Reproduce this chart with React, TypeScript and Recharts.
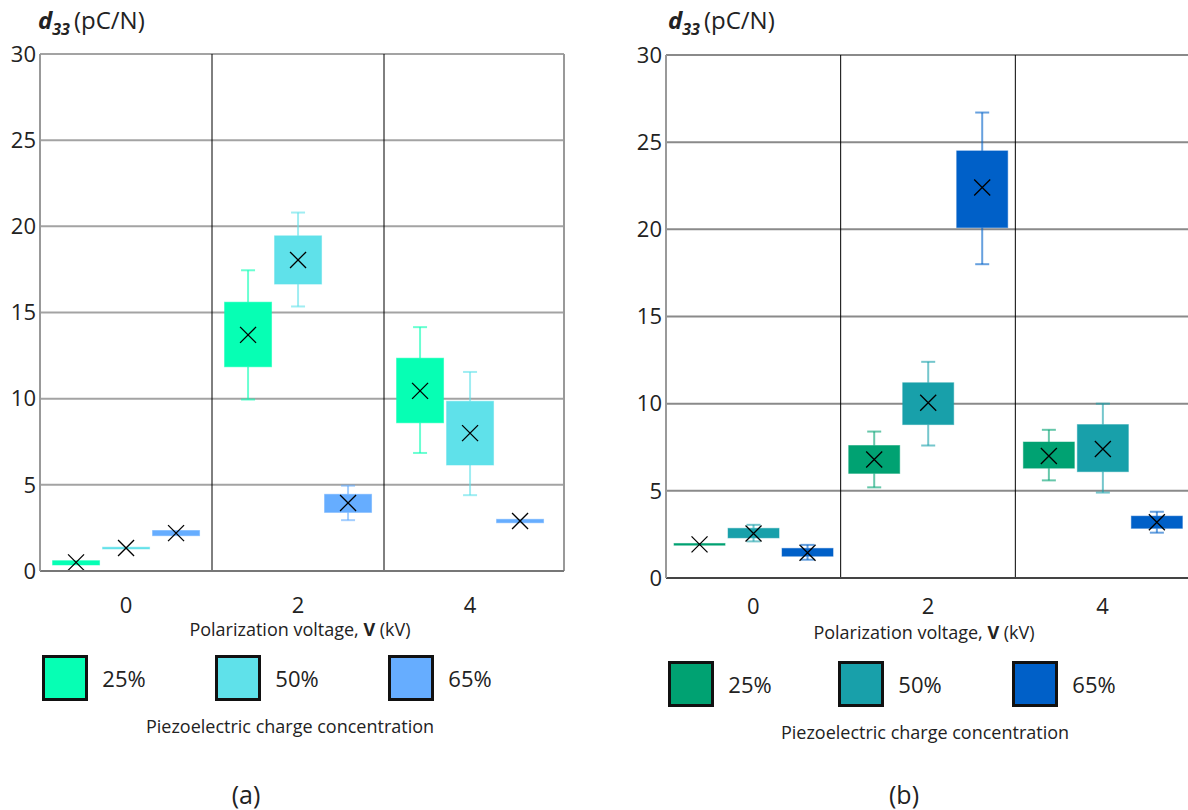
import React from "react";
import { Bar, CartesianGrid, ComposedChart, XAxis, YAxis } from "recharts";

const voltages = ["0", "2", "4"];
const concentrations = ["25%", "50%", "65%"];
const yTicks = [0, 5, 10, 15, 20, 25, 30];

// one row per voltage: [min, q1, q3, max, mean]
const a25 = [
  [0.35, 0.35, 0.6, 0.6, 0.5],
  [9.95, 11.85, 15.6, 17.45, 13.7],
  [6.85, 8.6, 12.35, 14.15, 10.45],
];
const a50 = [
  [1.28, 1.28, 1.38, 1.38, 1.33],
  [15.35, 16.65, 19.45, 20.8, 18.05],
  [4.4, 6.15, 9.85, 11.55, 8.0],
];
const a65 = [
  [2.05, 2.05, 2.35, 2.35, 2.2],
  [2.95, 3.4, 4.45, 4.95, 3.95],
  [2.8, 2.8, 3.0, 3.0, 2.9],
];
const b25 = [
  [1.88, 1.88, 1.98, 1.98, 1.93],
  [5.2, 6.0, 7.6, 8.4, 6.8],
  [5.6, 6.3, 7.8, 8.5, 7.0],
];
const b50 = [
  [2.1, 2.3, 2.85, 3.05, 2.55],
  [7.6, 8.8, 11.2, 12.4, 10.05],
  [4.9, 6.1, 8.8, 10.0, 7.4],
];
const b65 = [
  [1.05, 1.25, 1.7, 1.9, 1.45],
  [18.0, 20.1, 24.5, 26.7, 22.4],
  [2.6, 2.85, 3.55, 3.8, 3.2],
];

const aColors = ["#06ffb4", "#5fe1ea", "#66adff"];
const bColors = ["#00a272", "#18a0aa", "#0060c8"];

const FONT = '"Open Sans", "Noto Sans", sans-serif';

function buildRows(sets: number[][][]) {
  return voltages.map((v, i) => {
    const row: Record<string, any> = { v };
    sets.forEach((set, s) => {
      const [min, q1, q3, max, mean] = set[i];
      row[`base${s}`] = min;
      row[`low${s}`] = q1 - min;
      row[`box${s}`] = q3 - q1;
      row[`high${s}`] = max - q3;
      row[`q1_${s}`] = q1;
      row[`q3_${s}`] = q3;
      row[`mean${s}`] = mean;
    });
    return row;
  });
}

function whisker(props: any, color: string, capTop: boolean) {
  const { x, y, width, height } = props;
  if (!height || height < 0.5) return <g />;
  const cx = x + width / 2;
  const capY = capTop ? y : y + height;
  return (
    <g stroke={color} strokeWidth={2} strokeOpacity={0.6}>
      <line x1={cx} x2={cx} y1={y} y2={y + height} />
      <line x1={cx - 7} x2={cx + 7} y1={capY} y2={capY} />
    </g>
  );
}

function box(props: any, s: number, color: string) {
  const { x, y, width, height, payload } = props;
  const q1 = payload[`q1_${s}`];
  const q3 = payload[`q3_${s}`];
  const mean = payload[`mean${s}`];
  const my = y + (height * (q3 - mean)) / (q3 - q1);
  const cx = x + width / 2;
  const r = 8;
  return (
    <g>
      <rect x={x} y={y} width={width} height={Math.max(height, 1)} fill={color} stroke={color} strokeOpacity={0.5} />
      <path
        d={`M${cx - r},${my - r}L${cx + r},${my + r}M${cx + r},${my - r}L${cx - r},${my + r}`}
        stroke="#000"
        strokeWidth={1.3}
        fill="none"
      />
    </g>
  );
}

type PanelProps = {
  left: number;
  sets: number[][][];
  colors: string[];
  top: number;
  yAxisWidth: number;
  right: number;
  padRight: number;
  bottom: number;
  tickMargin: number;
  catGap: string;
  hGrid: string;
  bottomAxis: string;
  letter: string;
  titleX: number;
  legendX: number[];
  legendY: number;
  captionX: number;
  captionY: number;
  axisTitleX: number;
  axisTitleY: number;
  letterX: number;
};

function centered(x: number, y: number): React.CSSProperties {
  return {
    position: "absolute",
    left: x,
    top: y,
    transform: "translate(-50%, -50%)",
    whiteSpace: "nowrap",
    lineHeight: 1.1,
  };
}

function Panel(p: PanelProps) {
  const rows = buildRows(p.sets);
  return (
    <>
      <div style={{ position: "absolute", left: p.left, top: 0 }}>
        <ComposedChart
          width={600}
          height={640}
          data={rows}
          margin={{ top: p.top, right: p.right, left: 0, bottom: p.bottom }}
          barGap={3}
          barCategoryGap={p.catGap}
        >
          <CartesianGrid vertical={false} stroke={p.hGrid} strokeWidth={2} />
          <CartesianGrid
            horizontal={false}
            stroke="#000"
            strokeWidth={1}
            verticalCoordinatesGenerator={({ offset }: any) =>
              [1, 2].map((k) => offset.left + ((offset.width - p.padRight) * k) / voltages.length)
            }
          />
          <CartesianGrid
            horizontal={false}
            stroke="#999"
            strokeWidth={2}
            verticalCoordinatesGenerator={({ offset }: any) => [offset.left + offset.width]}
          />
          <XAxis
            dataKey="v"
            height={40}
            padding={{ left: 0, right: p.padRight }}
            tickLine={false}
            tickSize={0}
            tickMargin={p.tickMargin}
            axisLine={{ stroke: p.bottomAxis, strokeWidth: 2 }}
            tick={{ fill: "#222", fontSize: 22, fontFamily: FONT }}
          />
          <YAxis
            width={p.yAxisWidth}
            domain={[0, 30]}
            ticks={yTicks}
            tickLine={false}
            tickSize={0}
            tickMargin={4}
            axisLine={{ stroke: "#999", strokeWidth: 2 }}
            tick={{ fill: "#222", fontSize: 22, fontFamily: FONT }}
          />
          {concentrations.map((c, s) => [
            <Bar key={`base${s}`} dataKey={`base${s}`} stackId={c} fill="none" isAnimationActive={false} />,
            <Bar
              key={`low${s}`}
              dataKey={`low${s}`}
              stackId={c}
              isAnimationActive={false}
              shape={(props: any) => whisker(props, p.colors[s], false)}
            />,
            <Bar
              key={`box${s}`}
              dataKey={`box${s}`}
              stackId={c}
              isAnimationActive={false}
              shape={(props: any) => box(props, s, p.colors[s])}
            />,
            <Bar
              key={`high${s}`}
              dataKey={`high${s}`}
              stackId={c}
              isAnimationActive={false}
              shape={(props: any) => whisker(props, p.colors[s], true)}
            />,
          ])}
        </ComposedChart>
      </div>

      <div style={{ position: "absolute", left: p.titleX, top: 3, fontSize: 24, whiteSpace: "nowrap" }}>
        <b>
          <i>d</i>
        </b>
        <b>
          <i style={{ fontSize: 16, position: "relative", top: 6 }}>33</i>
        </b>
        <span style={{ marginLeft: 4 }}>(pC/N)</span>
      </div>

      <div style={{ ...centered(p.axisTitleX, p.axisTitleY), fontSize: 18 }}>
        Polarization voltage, <b>V</b> (kV)
      </div>

      {concentrations.map((c, s) => (
        <React.Fragment key={c}>
          <div
            style={{
              position: "absolute",
              left: p.legendX[s],
              top: p.legendY,
              width: 40,
              height: 40,
              background: p.colors[s],
              border: "3px solid #111",
            }}
          />
          <div style={{ ...centered(p.legendX[s] + 82, p.legendY + 23), fontSize: 22 }}>{c}</div>
        </React.Fragment>
      ))}

      <div style={{ ...centered(p.captionX, p.captionY), fontSize: 18 }}>
        Piezoelectric charge concentration
      </div>
      <div style={{ ...centered(p.letterX, 794), fontSize: 25, lineHeight: 1 }}>({p.letter})</div>
    </>
  );
}

export default function App() {
  return (
    <div
      style={{
        position: "absolute",
        left: 0,
        top: 0,
        width: 1188,
        height: 810,
        overflow: "hidden",
        background: "#fff",
        fontFamily: FONT,
        color: "#222",
      }}
    >
      <Panel
        left={0}
        sets={[a25, a50, a65]}
        colors={aColors}
        top={54}
        yAxisWidth={40}
        right={36}
        padRight={8}
        bottom={29}
        tickMargin={26}
        catGap="7.3%"
        hGrid="#a3a3a3"
        bottomAxis="#777"
        letter="a"
        titleX={38}
        legendX={[42, 215, 388]}
        legendY={655}
        captionX={290}
        captionY={727}
        axisTitleX={300}
        axisTitleY={630}
        letterX={246}
      />
      <Panel
        left={620}
        sets={[b25, b50, b65]}
        colors={bColors}
        top={55}
        yAxisWidth={46}
        right={30}
        padRight={0}
        bottom={22}
        tickMargin={20}
        catGap="4.6%"
        hGrid="#8a8a8a"
        bottomAxis="#444"
        letter="b"
        titleX={668}
        legendX={[668, 838, 1012]}
        legendY={661}
        captionX={925}
        captionY={733}
        axisTitleX={924}
        axisTitleY={633}
        letterX={904}
      />
    </div>
  );
}
